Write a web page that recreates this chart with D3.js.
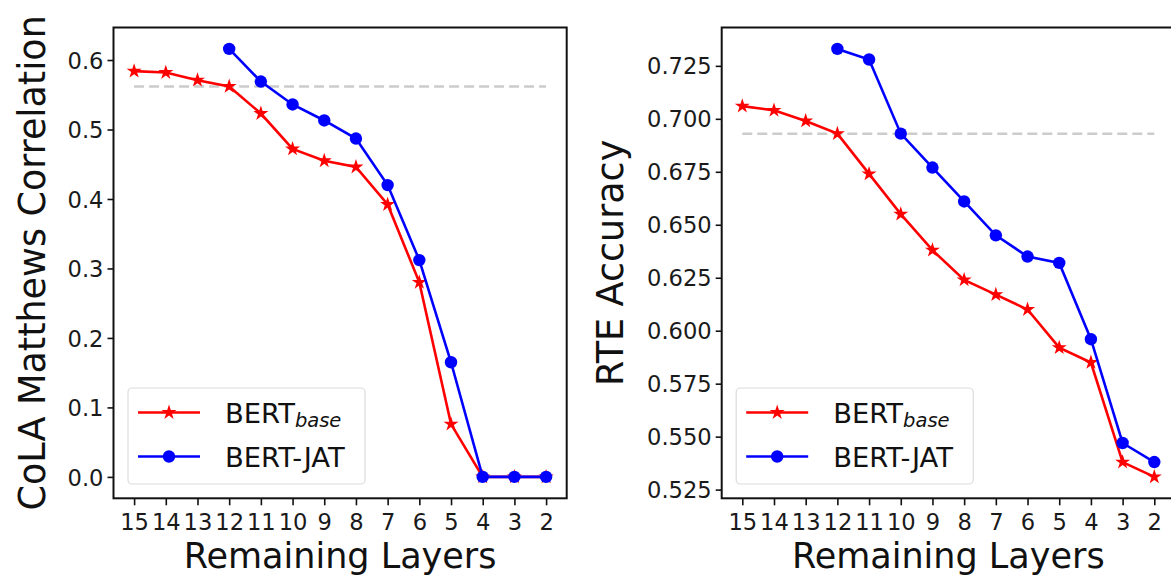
<!DOCTYPE html>
<html>
<head>
<meta charset="utf-8">
<script src="https://cdn.jsdelivr.net/npm/d3@7"></script>
<style>
  body { margin: 0; padding: 0; background: #fff; }
  svg { display: block; font-family: "DejaVu Sans", sans-serif; }
</style>
</head>
<body>
<script>
// remaining layers on the x axis (15 -> 2)
const layers = [15, 14, 13, 12, 11, 10, 9, 8, 7, 6, 5, 4, 3, 2];
const jatLayers = [12, 11, 10, 9, 8, 7, 6, 5, 4, 3, 2];

// CoLA (left panel)
const colaBase = [0.584, 0.582, 0.571, 0.562, 0.523, 0.472, 0.455, 0.446, 0.392, 0.280, 0.076, 0.0, 0.0, 0.0];
const colaJat = [0.616, 0.569, 0.536, 0.513, 0.487, 0.420, 0.312, 0.165, 0.0, 0.0, 0.0];
const colaRef = 0.562;
const colaTicks = [0.0, 0.1, 0.2, 0.3, 0.4, 0.5, 0.6];

// RTE (right panel)
const rteBase = [0.706, 0.704, 0.699, 0.693, 0.674, 0.655, 0.638, 0.624, 0.617, 0.610, 0.592, 0.585, 0.538, 0.531];
const rteJat = [0.733, 0.728, 0.693, 0.677, 0.661, 0.645, 0.635, 0.632, 0.596, 0.547, 0.538];
const rteRef = 0.693;
const rteTicks = [0.525, 0.550, 0.575, 0.600, 0.625, 0.650, 0.675, 0.700, 0.725];

const W = 1171, H = 576;
const svg = d3.select("body").append("svg")
  .attr("width", W)
  .attr("height", H);

const RED = "#ff0000", BLUE = "#0000ff";

function panel(opts) {
  const { left, right, top, bottom } = opts.box;

  const all = opts.base.concat(opts.jat, [opts.ref]);
  const ext = d3.extent(all);
  const pad = (ext[1] - ext[0]) * 0.05;

  const x = d3.scaleLinear()
    .domain([15 + 0.65, 2 - 0.65])
    .range([left, right]);
  const y = d3.scaleLinear()
    .domain([ext[0] - pad, ext[1] + pad])
    .range([bottom, top]);

  const g = svg.append("g");

  // reference dashed line
  g.append("line")
    .attr("x1", x(layers[0]))
    .attr("x2", x(layers[layers.length - 1]))
    .attr("y1", y(opts.ref))
    .attr("y2", y(opts.ref))
    .attr("stroke", "#cccccc")
    .attr("stroke-width", 2.5)
    .attr("stroke-dasharray", "10,5");

  const line = d3.line().x(d => x(d[0])).y(d => y(d[1]));

  const baseData = layers.map((l, i) => [l, opts.base[i]]);
  const jatData = jatLayers.map((l, i) => [l, opts.jat[i]]);

  g.append("path")
    .datum(baseData)
    .attr("d", line)
    .attr("fill", "none")
    .attr("stroke", RED)
    .attr("stroke-width", 2.6);

  g.selectAll(".star")
    .data(baseData)
    .join("path")
      .attr("class", "star")
      .attr("transform", d => `translate(${x(d[0])},${y(d[1])})`)
      .attr("d", d3.symbol(d3.symbolStar, 70))
      .attr("fill", RED);

  g.append("path")
    .datum(jatData)
    .attr("d", line)
    .attr("fill", "none")
    .attr("stroke", BLUE)
    .attr("stroke-width", 2.6);

  g.selectAll(".dot")
    .data(jatData)
    .join("circle")
      .attr("class", "dot")
      .attr("cx", d => x(d[0]))
      .attr("cy", d => y(d[1]))
      .attr("r", 6.2)
      .attr("fill", BLUE);

  // axes
  const yAxis = d3.axisLeft(y)
    .tickValues(opts.ticks)
    .tickFormat(d3.format(opts.fmt))
    .tickSize(6)
    .tickPadding(4);
  const xAxis = d3.axisBottom(x)
    .tickValues(layers)
    .tickFormat(d3.format("d"))
    .tickSize(7)
    .tickPadding(8.6);

  const ya = g.append("g")
    .attr("transform", `translate(${left},0)`)
    .call(yAxis);
  const xa = g.append("g")
    .attr("transform", `translate(0,${bottom})`)
    .call(xAxis);

  [ya, xa].forEach(a => {
    a.select(".domain").remove();
    a.selectAll("line").attr("stroke", "#111").attr("stroke-width", 1.6);
    a.selectAll("text")
      .attr("fill", "#1a1a1a")
      .style("font-size", "22.6px")
      .style("font-family", "DejaVu Sans");
  });
  ya.selectAll("text").attr("dy", "0.36em");

  // frame
  g.append("rect")
    .attr("x", left)
    .attr("y", top)
    .attr("width", right - left)
    .attr("height", bottom - top)
    .attr("fill", "none")
    .attr("stroke", "#111")
    .attr("stroke-width", 2);

  // axis labels
  g.append("text")
    .attr("x", (left + right) / 2)
    .attr("y", 567.8)
    .attr("text-anchor", "middle")
    .attr("fill", "#111")
    .style("font-size", "35px")
    .text("Remaining Layers");

  g.append("text")
    .attr("transform", `translate(${opts.ylabelX},${(top + bottom) / 2}) rotate(-90)`)
    .attr("text-anchor", "middle")
    .attr("fill", "#111")
    .style("font-size", "36.5px")
    .text(opts.ylabel);

  // legend
  const lx = left + 14.5, lw = 237, lh = 96;
  const ly = bottom - 14.3 - lh;
  const lg = g.append("g");
  lg.append("rect")
    .attr("x", lx).attr("y", ly)
    .attr("width", lw).attr("height", lh)
    .attr("rx", 4)
    .attr("fill", "#fff")
    .attr("fill-opacity", 0.8)
    .attr("stroke", "#dcdcdc")
    .attr("stroke-width", 1.2);

  const rows = [
    { color: RED, marker: "star", y: ly + 24.5 },
    { color: BLUE, marker: "dot", y: ly + 68.5 }
  ];
  rows.forEach(r => {
    lg.append("line")
      .attr("x1", lx + 10).attr("x2", lx + 72)
      .attr("y1", r.y).attr("y2", r.y)
      .attr("stroke", r.color)
      .attr("stroke-width", 2.6);
    if (r.marker === "star") {
      lg.append("path")
        .attr("transform", `translate(${lx + 41},${r.y})`)
        .attr("d", d3.symbol(d3.symbolStar, 70))
        .attr("fill", r.color);
    } else {
      lg.append("circle")
        .attr("cx", lx + 41).attr("cy", r.y)
        .attr("r", 6.2)
        .attr("fill", r.color);
    }
  });

  const t1 = lg.append("text")
    .attr("x", lx + 97)
    .attr("y", rows[0].y + 10)
    .attr("fill", "#111")
    .style("font-size", "27.4px");
  t1.append("tspan").text("BERT");
  t1.append("tspan")
    .attr("dy", 4)
    .style("font-size", "19.5px")
    .style("font-style", "italic")
    .text("base");

  lg.append("text")
    .attr("x", lx + 97)
    .attr("y", rows[1].y + 10)
    .attr("fill", "#111")
    .style("font-size", "27.4px")
    .text("BERT-JAT");
}

panel({
  box: { left: 113.5, right: 566.7, top: 27.5, bottom: 498.3 },
  base: colaBase, jat: colaJat, ref: colaRef,
  ticks: colaTicks, fmt: ".1f",
  ylabel: "CoLA Matthews Correlation", ylabelX: 45
});

panel({
  box: { left: 721.7, right: 1174.9, top: 27.5, bottom: 498.3 },
  base: rteBase, jat: rteJat, ref: rteRef,
  ticks: rteTicks, fmt: ".3f",
  ylabel: "RTE Accuracy", ylabelX: 622.5
});
</script>
</body>
</html>
